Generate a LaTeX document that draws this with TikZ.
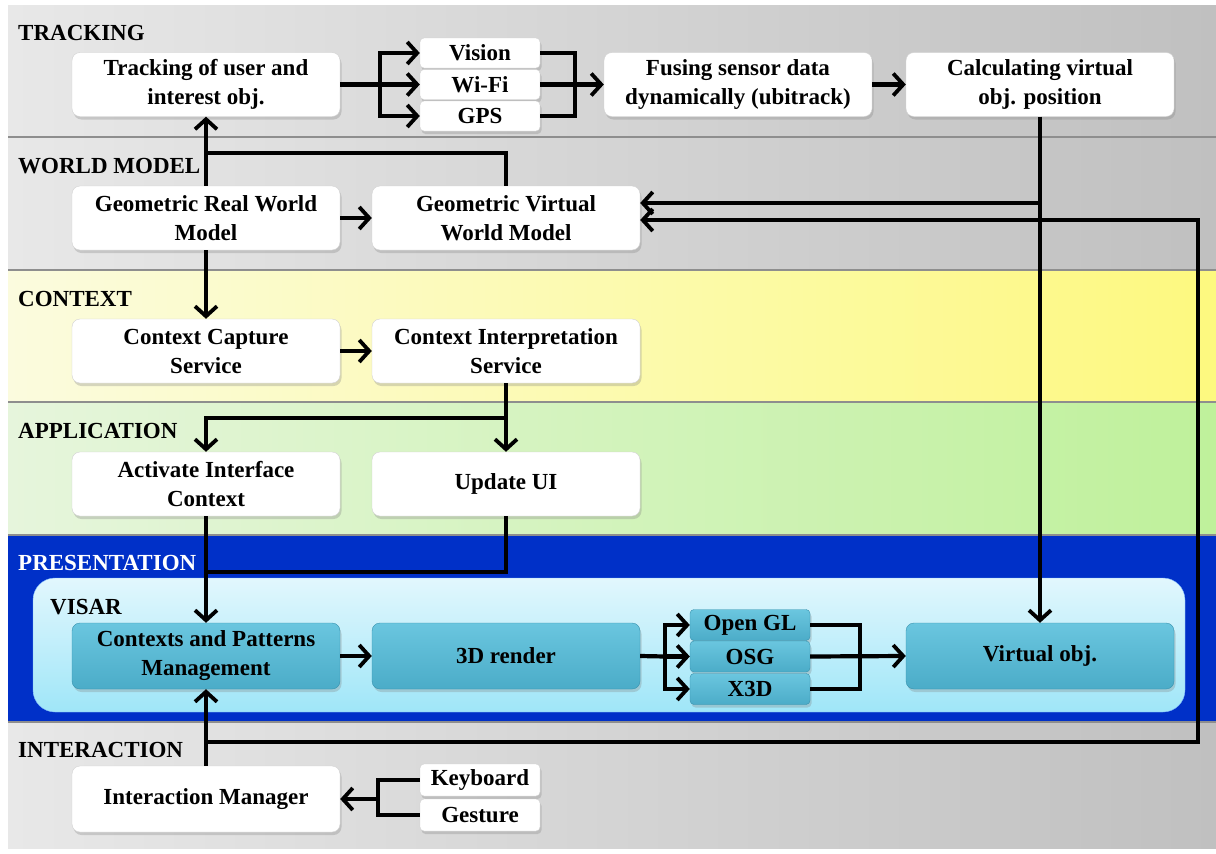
\documentclass[tikz,border=0pt]{standalone}
\usepackage{fontspec}
\setmainfont{Liberation Serif}
\usetikzlibrary{arrows.meta,shadows}

\definecolor{grayL}{HTML}{E8E8E8}
\definecolor{grayR}{HTML}{C0C0C0}
\definecolor{yelL}{HTML}{FBFBDE}
\definecolor{yelR}{HTML}{FDF97F}
\definecolor{grnL}{HTML}{E6F5DC}
\definecolor{grnR}{HTML}{BFF19B}
\definecolor{presblue}{HTML}{0030C8}
\definecolor{visarT}{HTML}{E2F7FD}
\definecolor{visarB}{HTML}{9FE6F8}
\definecolor{tealT}{HTML}{6AC6DF}
\definecolor{tealM}{HTML}{54B7D1}
\definecolor{tealB}{HTML}{4BACC8}
\definecolor{tealD}{HTML}{3892AE}
\definecolor{divline}{HTML}{8E8E8E}

\begin{document}
\begin{tikzpicture}[x=1pt,y=-1pt,
  txt/.style={font=\fontsize{23}{29}\selectfont\bfseries},
  band/.style={draw=none},
  lbl/.style={txt,anchor=base west,inner sep=0pt},
  boxbase/.style={txt,align=center,inner sep=0pt,
    drop shadow={shadow xshift=1.5pt,shadow yshift=-3pt,opacity=0.3}},
  wbox/.style={boxbase,rounded corners=8pt,fill=white,draw=gray!35,
    minimum width=268pt,minimum height=64pt},
  wsmall/.style={boxbase,rounded corners=4pt,fill=white,draw=gray!35,
    minimum width=120pt,minimum height=30pt},
  tbox/.style={boxbase,rounded corners=8pt,top color=tealT,middle color=tealM,
    bottom color=tealB,draw=tealD,minimum width=268pt,minimum height=66pt},
  tsmall/.style={boxbase,rounded corners=4pt,top color=tealT,middle color=tealM,
    bottom color=tealB,draw=tealD,minimum width=120pt,minimum height=31pt},
  link/.style={line width=4.2pt},
  arr/.style={link,-{Straight Barb[length=10pt,width=22pt,line width=3.8pt]}}
]
\useasboundingbox (0,0) rectangle (1216,854);

% layer bands
\shade[band,left color=grayL,right color=grayR] (8,5) rectangle (1216,137);
\shade[band,left color=grayL,right color=grayR] (8,137) rectangle (1216,270);
\shade[band,left color=yelL,right color=yelR] (8,270) rectangle (1216,402);
\shade[band,left color=grnL,right color=grnR] (8,402) rectangle (1216,535);
\fill[presblue] (8,535) rectangle (1216,722);
\shade[band,left color=grayL,right color=grayR] (8,722) rectangle (1216,848);
\foreach \yy in {137,270,402,535,722}
  \draw[divline,line width=1.6pt] (8,\yy) -- (1216,\yy);

% VISAR container
\shade[rounded corners=22pt,top color=visarT,bottom color=visarB,draw=visarB!80!blue]
  (33,578) rectangle (1185,712);

% layer labels
\node[lbl] (lt) at (18,40) {TRACKING};
\node[lbl] (lw) at (18,173) {WORLD MODEL};
\node[lbl] (lc) at (18,306) {CONTEXT};
\node[lbl] (la) at (18,438) {APPLICATION};
\node[lbl,text=white] (lp) at (18,570) {PRESENTATION};
\node[lbl] (lv) at (50,614) {VISAR};
\node[lbl] (li) at (18,757) {INTERACTION};

% tracking
\node[wbox] (trk) at (206,84.5) {Tracking of user and\\interest obj.};
\node[wsmall] (vis) at (480,53) {Vision};
\node[wsmall] (wifi) at (480,84.5) {Wi-Fi};
\node[wsmall] (gps) at (480,116) {GPS};
\node[wbox] (fuse) at (738,84.5) {Fusing sensor data\\dynamically (ubitrack)};
\node[wbox] (calc) at (1040,84.5) {Calculating virtual\\obj. position};

% world model
\node[wbox] (grw) at (206,218) {Geometric Real World\\Model};
\node[wbox] (gvw) at (506,218) {Geometric Virtual\\World Model};

% context
\node[wbox] (ccs) at (206,351) {Context Capture\\Service};
\node[wbox] (cis) at (506,351) {Context Interpretation\\Service};

% application
\node[wbox] (aic) at (206,484) {Activate Interface\\Context};
\node[wbox] (uui) at (506,484) {Update UI};

% presentation
\node[tbox] (cpm) at (206,656) {Contexts and Patterns\\Management};
\node[tbox] (r3d) at (506,656) {3D render};
\node[tsmall] (ogl) at (750,625) {Open GL};
\node[tsmall] (osg) at (750,656.5) {OSG};
\node[tsmall] (x3d) at (750,689) {X3D};
\node[tbox] (vobj) at (1040,656) {Virtual obj.};

% interaction
\node[wbox,minimum height=66pt] (im) at (206,799) {Interaction Manager};
\node[wsmall,minimum height=32pt] (kb) at (480,780) {Keyboard};
\node[wsmall,minimum height=32pt] (ges) at (480,815) {Gesture};

% junction points
\coordinate (sp1) at (380,84.5);
\coordinate (mg1) at (575,84.5);
\coordinate (j1) at (206,153);
\coordinate (c1) at (1040,203);
\coordinate (l1) at (206,742);
\coordinate (lr) at (1198,220);
\coordinate (b1) at (506,418);
\coordinate (u1) at (206,572);
\coordinate (sp2) at (665,656.5);
\coordinate (mg2) at (860,656.5);
\coordinate (sp3) at (378,799);

% tracking flow
\draw[link] (trk.east) -- (sp1);
\draw[arr] (sp1) |- (vis.west);
\draw[arr] (sp1) -- (wifi.west);
\draw[arr] (sp1) |- (gps.west);
\draw[link] (vis.east) -| (mg1);
\draw[link] (gps.east) -| (mg1);
\draw[arr] (wifi.east) -- (fuse.west);
\draw[arr] (fuse) -- (calc);

% world model flow
\draw[arr] (grw.north) -- (trk.south);
\draw[link] (gvw.north) |- (j1);
\draw[arr] (grw) -- (gvw);
\draw[arr] (calc.south) -- (vobj.north);
\draw[arr] (c1) -- (c1 -| gvw.east);
\draw[arr] (l1) -| (lr) -- (lr -| gvw.east);

% context and application flow
\draw[arr] (grw.south) -- (ccs.north);
\draw[arr] (ccs) -- (cis);
\draw[arr] (cis.south) -- (uui.north);
\draw[arr] (b1) -| (aic.north);
\draw[arr] (aic.south) -- (cpm.north);
\draw[link] (uui.south) |- (u1);

% presentation flow
\draw[arr] (cpm) -- (r3d);
\draw[link] (r3d.east) -- (sp2);
\draw[arr] (sp2) |- (ogl.west);
\draw[arr] (sp2) -- (osg.west);
\draw[arr] (sp2) |- (x3d.west);
\draw[link] (ogl.east) -| (mg2);
\draw[link] (x3d.east) -| (mg2);
\draw[arr] (osg.east) -- (vobj.west);

% interaction flow
\draw[arr] (im.north) -- (cpm.south);
\draw[link] (kb.west) -| (sp3);
\draw[link] (ges.west) -| (sp3);
\draw[arr] (sp3) -- (im.east);
\end{tikzpicture}
\end{document}
